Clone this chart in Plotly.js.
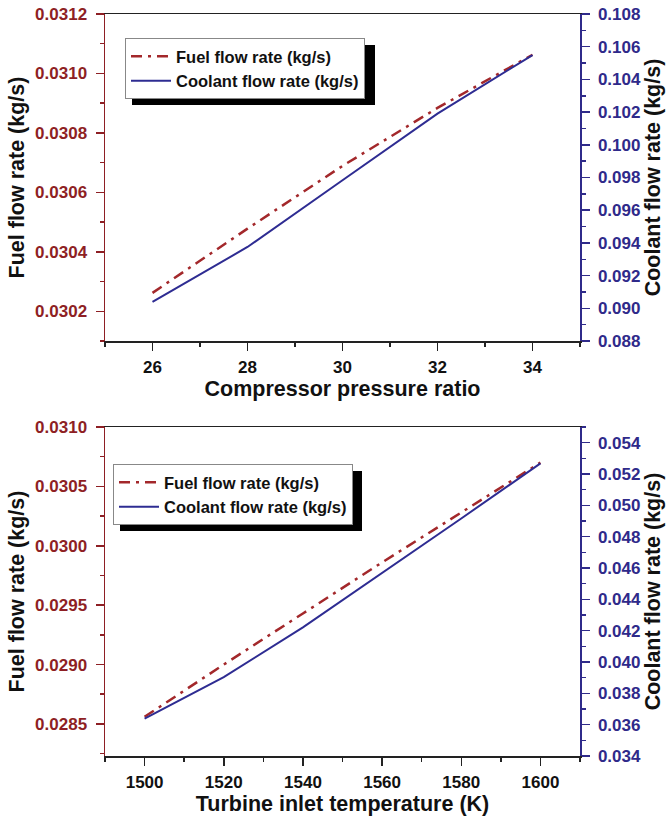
<!DOCTYPE html>
<html><head><meta charset="utf-8">
<script src="https://cdn.plot.ly/plotly-3.0.1.min.js"></script>
<style>html,body{margin:0;padding:0;background:#fff}#chart{width:671px;height:822px}</style>
</head><body><div id="chart"></div>
<script>
// ---- data ----
const pressureRatio = [26, 28, 30, 32, 34];
const fuelVsPressure = [0.030262, 0.030478, 0.030689, 0.030884, 0.031063];
const coolantVsPressure = [0.09039, 0.09375, 0.09783, 0.10191, 0.10549];

const turbineTemp = [1500, 1520, 1540, 1560, 1580, 1600];
const fuelVsTemp = [0.02856, 0.02900, 0.02943, 0.02986, 0.03028, 0.03070];
const coolantVsTemp = [0.03639, 0.03903, 0.04221, 0.04566, 0.04916, 0.05268];

const fuelName = 'Fuel flow rate (kg/s)';
const coolantName = 'Coolant flow rate (kg/s)';
const xTitleTop = 'Compressor pressure ratio';
const xTitleBottom = 'Turbine inlet temperature (K)';
const yTitleLeft = 'Fuel flow rate (kg/s)';
const yTitleRight = 'Coolant flow rate (kg/s)';

// ---- styling ----
const FONT = 'Liberation Sans, Arial, Helvetica, sans-serif';
const RED = '#8E1F24';
const BLUE = '#2F2A8A';
const FUEL_LINE = '#A3282B';
const COOL_LINE = '#2E2C92';
const tickFont = c => ({family: FONT, size: 17, color: c, weight: 'bold'});
const titleFont = {family: FONT, size: 21.5, color: '#111', weight: 'bold'};

const W = 671, H = 822;
const M = {l: 105, r: 91, t: 14, b: 66};
const PW = W - M.l - M.r, PH = H - M.t - M.b;
const px2x = px => (px - M.l) / PW;
const px2y = py => (H - M.b - py) / PH;

function xAxis(anchor, range, dtick, tick0, minorDtick, title) {
  return {
    anchor, domain: [0, 1], range, dtick, tick0, tickmode: 'linear',
    ticks: 'outside', ticklen: 8, tickwidth: 1.5, tickcolor: '#222',
    minor: {ticks: 'outside', dtick: minorDtick, ticklen: 4, tickwidth: 1.5, tickcolor: '#222', showgrid: false},
    showline: true, linecolor: '#222', linewidth: 1.5, mirror: true,
    showgrid: false, zeroline: false, tickfont: tickFont('#111'), ticklabelstandoff: 2,
    title: {text: title, font: titleFont, standoff: 4}
  };
}
function yAxis(opts) {
  const c = opts.color;
  return Object.assign({
    tickmode: 'linear', ticks: 'outside', ticklen: 8, tickwidth: 1.5, tickcolor: c,
    minor: {ticks: 'outside', dtick: opts.minorDtick, ticklen: 4, tickwidth: 1.5, tickcolor: c, showgrid: false},
    showline: true, linecolor: c, linewidth: 1.5,
    showgrid: false, zeroline: false, tickfont: tickFont(c), ticklabelstandoff: 5,
    title: {text: opts.titleText, font: titleFont, standoff: 4}
  }, opts.extra);
}

const topDomain = [px2y(341), 1];
const botDomain = [0, px2y(427)];

const data = [
  {x: pressureRatio, y: fuelVsPressure, name: fuelName, type: 'scatter', mode: 'lines',
   xaxis: 'x', yaxis: 'y', legend: 'legend',
   line: {color: FUEL_LINE, width: 2.5, dash: '11px,6px,3px,6px'}},
  {x: pressureRatio, y: coolantVsPressure, name: coolantName, type: 'scatter', mode: 'lines',
   xaxis: 'x', yaxis: 'y2', legend: 'legend',
   line: {color: COOL_LINE, width: 2}},
  {x: turbineTemp, y: fuelVsTemp, name: fuelName, type: 'scatter', mode: 'lines',
   xaxis: 'x2', yaxis: 'y3', legend: 'legend2',
   line: {color: FUEL_LINE, width: 2.5, dash: '11px,6px,3px,6px'}},
  {x: turbineTemp, y: coolantVsTemp, name: coolantName, type: 'scatter', mode: 'lines',
   xaxis: 'x2', yaxis: 'y4', legend: 'legend2',
   line: {color: COOL_LINE, width: 2}}
];

const legendBase = {
  xanchor: 'left', yanchor: 'top', bgcolor: '#fff', bordercolor: '#888', borderwidth: 1,
  font: {family: FONT, size: 16.5, color: '#111', weight: 'bold'}, itemwidth: 40, tracegroupgap: 0
};

// drop shadows behind the legend boxes (pixel boxes converted to paper coords)
function shadow(l, t, r, b) {
  return {type: 'rect', xref: 'paper', yref: 'paper', layer: 'above',
    x0: px2x(l), x1: px2x(r), y0: px2y(b), y1: px2y(t),
    fillcolor: '#000', line: {width: 0}};
}

const layout = {
  width: W, height: H,
  margin: M,
  paper_bgcolor: '#fff', plot_bgcolor: '#fff',
  showlegend: true,
  xaxis: xAxis('y', [25, 35], 2, 26, 1, xTitleTop),
  yaxis: yAxis({color: RED, minorDtick: 0.0001, titleText: yTitleLeft,
    extra: {anchor: 'x', domain: topDomain, range: [0.0301, 0.0312], dtick: 0.0002, tick0: 0.0302, tickformat: '.4f'}}),
  yaxis2: yAxis({color: BLUE, minorDtick: 0.001, titleText: yTitleRight,
    extra: {anchor: 'x', overlaying: 'y', side: 'right', range: [0.088, 0.108], dtick: 0.002, tick0: 0.088, tickformat: '.3f'}}),
  xaxis2: xAxis('y3', [1490, 1610], 20, 1500, 10, xTitleBottom),
  yaxis3: yAxis({color: RED, minorDtick: 0.00025, titleText: yTitleLeft,
    extra: {anchor: 'x2', domain: botDomain, range: [0.02823, 0.0310], dtick: 0.0005, tick0: 0.0285, tickformat: '.4f'}}),
  yaxis4: yAxis({color: BLUE, minorDtick: 0.001, titleText: yTitleRight,
    extra: {anchor: 'x2', overlaying: 'y3', side: 'right', range: [0.034, 0.055], dtick: 0.002, tick0: 0.034, tickformat: '.3f'}}),
  legend: Object.assign({}, legendBase, {x: px2x(125), y: px2y(38)}),
  legend2: Object.assign({}, legendBase, {x: px2x(113), y: px2y(464)}),
  shapes: [shadow(132, 45, 375, 105), shadow(120, 471, 362, 531)]
};

Plotly.newPlot('chart', data, layout, {staticPlot: true, displayModeBar: false});
</script>
</body></html>
